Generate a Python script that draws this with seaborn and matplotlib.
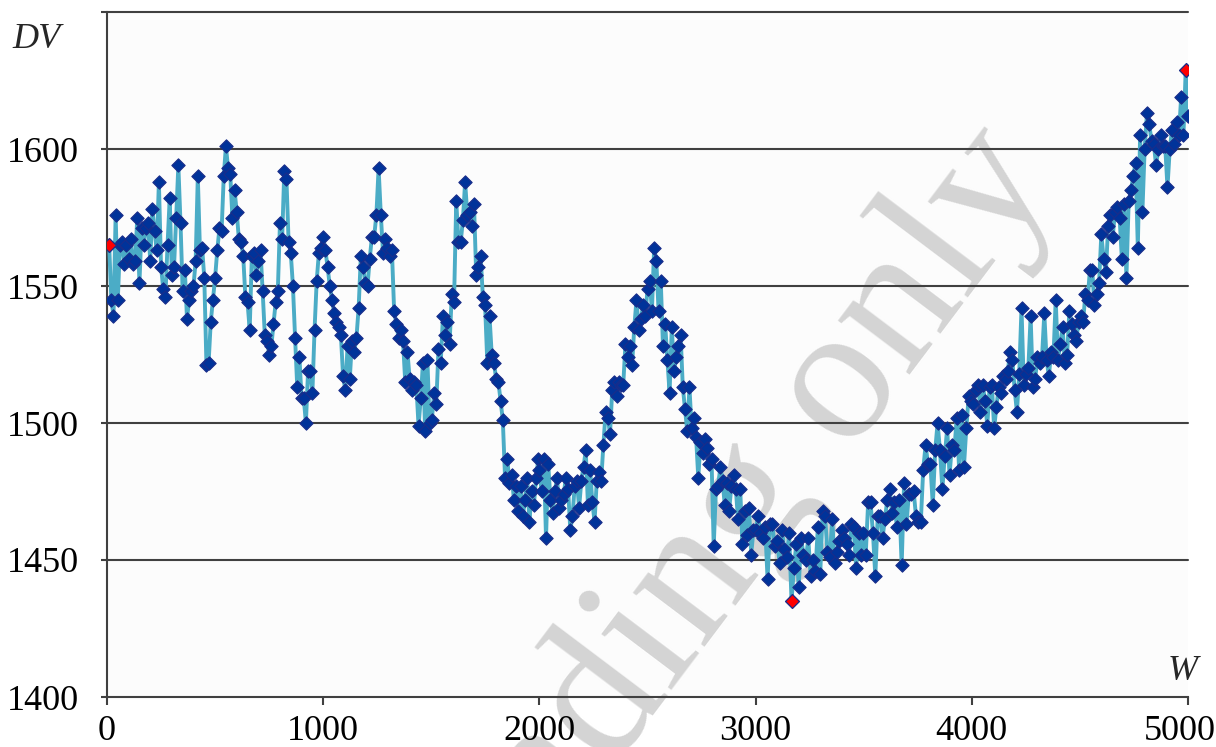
import numpy as np
import pandas as pd
import matplotlib
matplotlib.use("Agg")
import matplotlib.pyplot as plt
import matplotlib.transforms as mtransforms
import seaborn as sns

# ---- data ----
dv_seg1 = [1565, 1545, 1539, 1576, 1545, 1565, 1566, 1558, 1565, 1560,
           1567, 1558, 1559, 1575, 1551, 1571, 1565, 1571, 1573, 1559,
           1578, 1570, 1563, 1588, 1557, 1549, 1546, 1565, 1582, 1554,
           1557, 1575, 1594, 1573, 1548, 1556, 1538, 1545, 1548, 1550,
           1559, 1590, 1563, 1564, 1553, 1521, 1522, 1537, 1545, 1553,
           1563, 1571, 1570, 1590, 1601, 1593, 1591, 1575, 1585, 1577,
           1567, 1566, 1561, 1546, 1544, 1534, 1561, 1562, 1554, 1559,
           1563, 1548, 1532, 1530, 1525, 1528, 1536, 1544, 1548, 1573,
           1567, 1592, 1589, 1566, 1562, 1550, 1531, 1513, 1524, 1509,
           1509, 1500, 1519, 1519, 1511, 1534, 1552, 1562, 1564, 1568]
dv_seg2 = [1563, 1557, 1550, 1545, 1540, 1537, 1535, 1532, 1517, 1512,
           1528, 1516, 1530, 1526, 1531, 1542, 1561, 1557, 1551, 1550,
           1560, 1568, 1568, 1576, 1593, 1576, 1562, 1567, 1564, 1561,
           1563, 1541, 1536, 1531, 1534, 1530, 1515, 1526, 1516, 1512,
           1515, 1514, 1499, 1509, 1522, 1497, 1523, 1500, 1501, 1511,
           1507, 1527, 1522, 1539, 1532, 1537, 1529, 1547, 1544, 1581,
           1566, 1566, 1574, 1588, 1576, 1577, 1572, 1580, 1554, 1557,
           1561, 1546, 1543, 1522, 1539, 1525, 1522, 1516, 1515, 1508,
           1501, 1480, 1487, 1478, 1481, 1472, 1477, 1468, 1477, 1466,
           1472, 1480, 1464, 1475, 1470, 1480, 1487]
dv_seg3 = [1483, 1475, 1487, 1458, 1485, 1472, 1467, 1475, 1480, 1469,
           1472, 1474, 1480, 1476, 1461, 1466, 1477, 1479, 1469, 1479,
           1484, 1490, 1470, 1483, 1471, 1464, 1479, 1482, 1479, 1492,
           1504, 1502, 1496, 1512, 1515, 1510, 1515, 1514, 1514, 1529,
           1524, 1528, 1521, 1535, 1545, 1534, 1538, 1543, 1539, 1549,
           1552, 1541, 1564, 1559, 1541, 1552, 1528, 1536, 1523, 1511,
           1535, 1519, 1524, 1528, 1532, 1513, 1505, 1497, 1513, 1498,
           1502, 1495, 1480, 1493, 1489, 1494, 1491, 1485, 1487, 1455,
           1476, 1477, 1484, 1479, 1470, 1478, 1468, 1477, 1481, 1476,
           1465, 1476, 1456, 1468, 1459, 1469, 1452, 1461]
dv_seg4 = [1461, 1466, 1460, 1458, 1462, 1443, 1463, 1463, 1455, 1457,
           1449, 1461, 1454, 1451, 1460, 1435, 1447, 1456, 1440, 1458,
           1452, 1450, 1458, 1444, 1450, 1446, 1462, 1445, 1468, 1466,
           1453, 1451, 1465, 1449, 1453, 1457, 1461, 1458, 1456, 1452,
           1463, 1462, 1447, 1460, 1452, 1460, 1452, 1471, 1471, 1460,
           1444, 1466, 1466, 1458, 1465, 1472, 1476, 1467, 1471, 1462,
           1472, 1448, 1478, 1463, 1474, 1474, 1475, 1466, 1464, 1464,
           1483, 1492, 1485, 1485, 1470, 1490, 1500, 1490, 1476, 1488,
           1498, 1481, 1492, 1490, 1502, 1483, 1503, 1484, 1498, 1510,
           1508, 1507, 1512, 1514]
dv_seg5 = [1504, 1514, 1508, 1499, 1513, 1514, 1498, 1506, 1513, 1511,
           1517, 1516, 1519, 1526, 1523, 1512, 1504, 1518, 1542, 1514,
           1518, 1520, 1539, 1513, 1516, 1524, 1522, 1524, 1540, 1523,
           1517, 1526, 1524, 1545, 1523, 1529, 1535, 1522, 1525, 1541,
           1536, 1532, 1530, 1537, 1539, 1537, 1547, 1545, 1556, 1556,
           1543, 1547, 1551, 1569, 1560, 1555, 1572, 1576, 1568, 1577,
           1579, 1575, 1560, 1580, 1553, 1581, 1585, 1590, 1595, 1564,
           1605, 1577, 1600, 1613, 1609, 1603, 1602, 1594, 1600, 1605,
           1601, 1601, 1586, 1600, 1607, 1602, 1610, 1605, 1619, 1605,
           1629, 1612]
segments = [dv_seg1, dv_seg2, dv_seg3, dv_seg4, dv_seg5]
segment_w_spans = [(10, 1000), (1010, 1995), (2000, 2990), (3000, 4030), (4040, 5000)]

x_ticks = [0, 1000, 2000, 3000, 4000, 5000]
y_ticks = [1400, 1450, 1500, 1550, 1600, 1650]
y_tick_labels = ["1400", "1450", "1500", "1550", "1600", ""]

w = np.concatenate([np.linspace(a, b, len(s)) for (a, b), s in zip(segment_w_spans, segments)])
dv = np.concatenate([np.asarray(s, dtype=float) for s in segments])
df = pd.DataFrame({"W": w, "DV": dv})
highlight = df.iloc[[0, int(df["DV"].idxmin()), int(df["DV"].idxmax())]]

# ---- styling ----
sns.set_theme(style="white")
plt.rcParams["font.family"] = ["Liberation Serif", "DejaVu Serif"]

W_PX, H_PX = 1216, 747
fig = plt.figure(figsize=(W_PX / 100, H_PX / 100), dpi=100)
fig.patch.set_facecolor("white")
ax = fig.add_axes([107 / W_PX, 50 / H_PX, (1188 - 107) / W_PX, (697 - 12) / H_PX])
ax.set_facecolor("#fcfcfc")

grid_c = "#404040"
for g in y_ticks[1:]:
    ax.axhline(g, color=grid_c, lw=1.5, zorder=1, clip_on=False)

# watermark (behind data and tick labels)
ax.text(1058 / W_PX, 1 - 180 / H_PX, "For reading only", transform=fig.transFigure,
        rotation=53, rotation_mode="anchor", ha="right", va="baseline",
        fontsize=140, color="#d4d4d4", zorder=0.3, clip_on=False)

sns.lineplot(data=df, x="W", y="DV", sort=False, estimator=None,
             color="#4bacc6", lw=2.8, ax=ax, zorder=3)
sns.scatterplot(data=df, x="W", y="DV", marker="D", s=46, color="#00339a",
                edgecolor="#1a2d8a", linewidth=0.8, ax=ax, zorder=4)
sns.scatterplot(data=highlight, x="W", y="DV", marker="D", s=50, color="#ff0000",
                edgecolor="#1a2d8a", linewidth=0.9, ax=ax, zorder=5)

ax.set_xlim(0, 5000)
ax.set_ylim(1400, 1650)
ax.set_xticks(x_ticks)
ax.set_xticklabels([str(t) for t in x_ticks])
ax.set_yticks(y_ticks)
ax.set_yticklabels(y_tick_labels)
ax.set_xlabel("")
ax.set_ylabel("")

for side in ["top", "right"]:
    ax.spines[side].set_visible(False)
for side in ["left", "bottom"]:
    ax.spines[side].set_color(grid_c)
    ax.spines[side].set_linewidth(1.5)
    ax.spines[side].set_zorder(1.2)

ax.tick_params(axis="y", left=True, direction="out", length=4, width=1.5,
               color=grid_c, pad=16, labelsize=26, labelcolor="black")
ax.tick_params(axis="x", bottom=True, direction="out", length=6, width=1.5,
               color=grid_c, pad=7, labelsize=26, labelcolor="black")

# keep the last x label inside the canvas, as in the reference
last_lbl = ax.get_xticklabels()[-1]
last_lbl.set_transform(last_lbl.get_transform() +
                       mtransforms.ScaledTranslation(-8 / 100, 0, fig.dpi_scale_trans))

fig.text(12 / W_PX, 1 - 48 / H_PX, "DV", style="italic", fontsize=26,
         ha="left", va="baseline")
fig.text(1198 / W_PX, 1 - 680 / H_PX, "W", style="italic", fontsize=26,
         ha="right", va="baseline")

fig.savefig("out.png", dpi=100)
